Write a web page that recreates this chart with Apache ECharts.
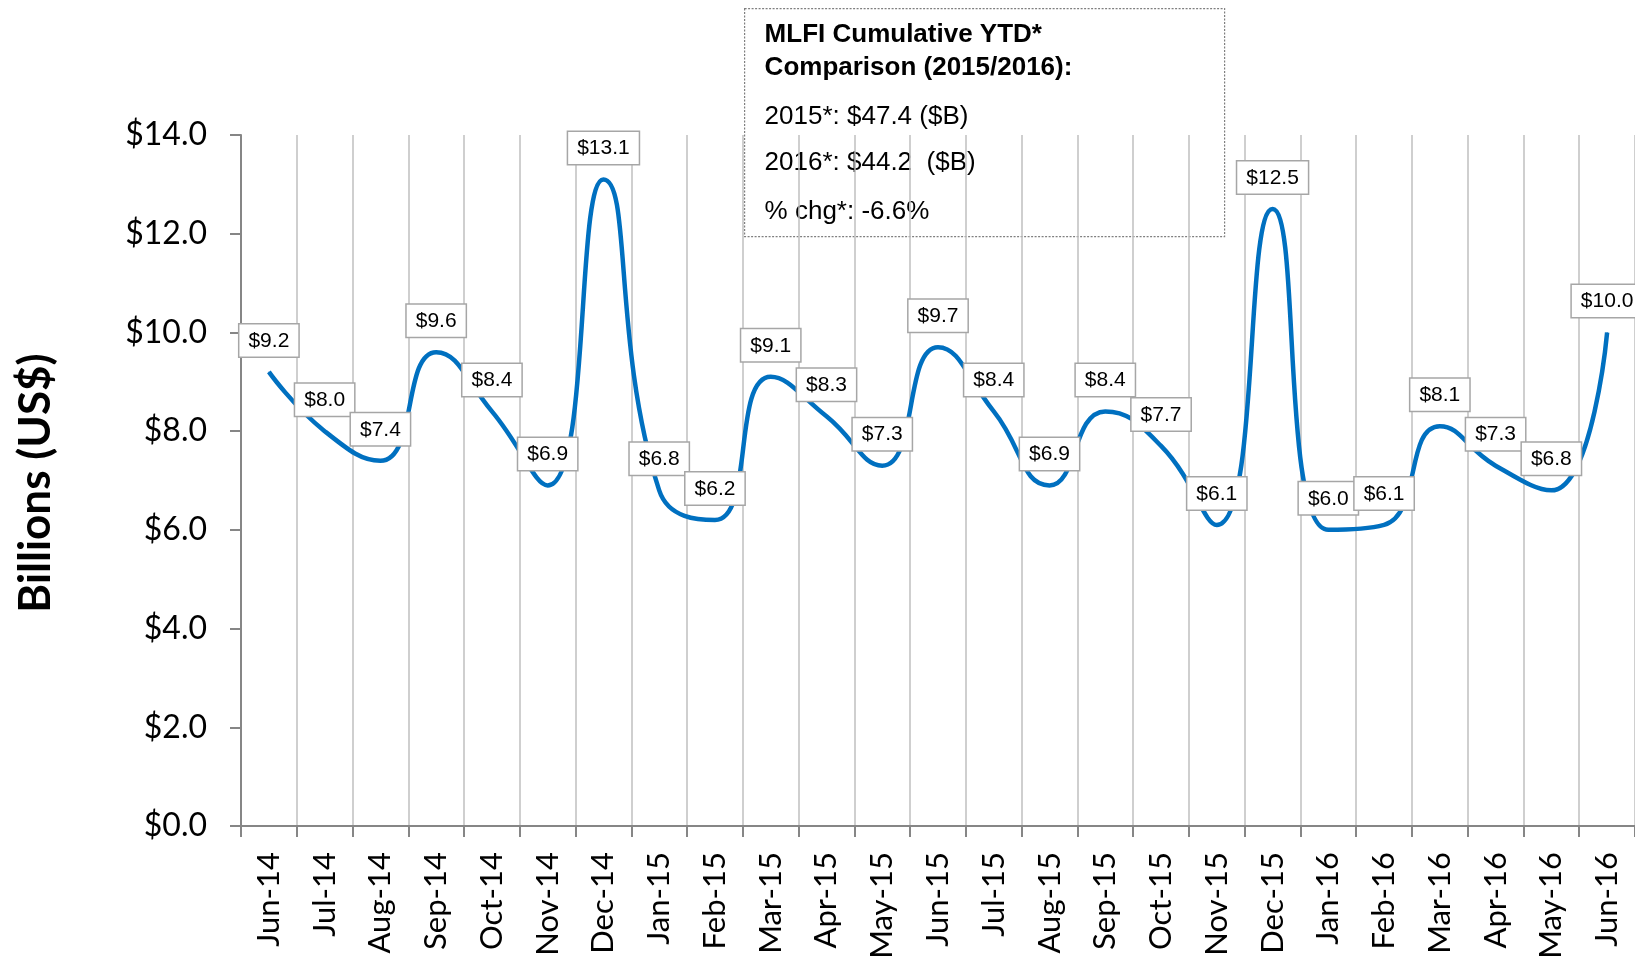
<!DOCTYPE html>
<html lang="en">
<head>
    <meta charset="UTF-8">
    <title>MLFI monthly volume</title>
    <style>
        html, body { margin: 0; padding: 0; background: #fff; }
        #main { width: 1635px; height: 966px; }
    </style>
</head>
<body>
    <div id="main"></div>
    <script src="https://cdn.jsdelivr.net/npm/echarts@6/dist/echarts.min.js"></script>
    <script>
        // months shown on the x axis
        const months = [
            'Jun-14', 'Jul-14', 'Aug-14', 'Sep-14', 'Oct-14', 'Nov-14', 'Dec-14',
            'Jan-15', 'Feb-15', 'Mar-15', 'Apr-15', 'May-15', 'Jun-15', 'Jul-15',
            'Aug-15', 'Sep-15', 'Oct-15', 'Nov-15', 'Dec-15', 'Jan-16', 'Feb-16',
            'Mar-16', 'Apr-16', 'May-16', 'Jun-16'
        ];
        // new business volume, billions US$
        const volume = [
            9.2, 8.0, 7.4, 9.6, 8.4, 6.9, 13.1,
            6.8, 6.2, 9.1, 8.3, 7.3, 9.7, 8.4,
            6.9, 8.4, 7.7, 6.1, 12.5, 6.0, 6.1,
            8.1, 7.3, 6.8, 10.0
        ];
        const boxTitle = ['MLFI Cumulative YTD*', 'Comparison (2015/2016):'];
        const boxLines = ['2015*: $47.4 ($B)', '2016*: $44.2  ($B)', '% chg*: -6.6%'];

        var chartDom = document.getElementById('main');
        var myChart = echarts.init(chartDom);
        var option;

        const money = v => '$' + Number(v).toFixed(1);
        const boxFont = 'Liberation Sans, Arial';

        // text lines inside the comparison box
        const boxTexts = [];
        const titleY = [26, 59];
        boxTitle.forEach((t, i) => {
            boxTexts.push({
                type: 'text',
                x: 20,
                y: titleY[i],
                style: {
                    text: t,
                    fontFamily: boxFont,
                    fontWeight: 'bold',
                    fontSize: 26,
                    fill: '#000',
                    textVerticalAlign: 'middle'
                }
            });
        });
        const lineY = [108, 154, 203];
        boxLines.forEach((t, i) => {
            boxTexts.push({
                type: 'text',
                x: 20,
                y: lineY[i],
                style: {
                    text: t,
                    fontFamily: boxFont,
                    fontSize: 26,
                    fill: '#000',
                    textVerticalAlign: 'middle'
                }
            });
        });

        option = {
            animation: false,
            grid: {
                left: 241,
                top: 135,
                bottom: 140,
                width: 1401
            },
            xAxis: {
                type: 'category',
                data: months,
                boundaryGap: true,
                axisLine: { lineStyle: { color: '#868686', width: 2 } },
                axisTick: {
                    show: true,
                    interval: 0,
                    length: 11,
                    lineStyle: { color: '#868686', width: 2 }
                },
                splitLine: {
                    show: true,
                    interval: 0,
                    lineStyle: { color: '#bfbfbf', width: 1.5 }
                },
                axisLabel: {
                    interval: 0,
                    rotate: 90,
                    margin: 26,
                    color: '#000',
                    fontFamily: 'Lato',
                    fontSize: 31
                }
            },
            yAxis: {
                type: 'value',
                min: 0,
                max: 14,
                interval: 2,
                splitLine: { show: false },
                axisLine: { show: true, lineStyle: { color: '#868686', width: 2 } },
                axisTick: {
                    show: true,
                    length: 11,
                    lineStyle: { color: '#868686', width: 2 }
                },
                axisLabel: {
                    formatter: money,
                    margin: 34,
                    color: '#000',
                    fontFamily: 'Lato',
                    fontSize: 32
                }
            },
            series: [
                {
                    type: 'line',
                    data: volume,
                    smooth: 0.5,
                    symbol: 'circle',
                    symbolSize: 1,
                    itemStyle: { color: '#0070C0' },
                    lineStyle: { color: '#0070C0', width: 4.5 },
                    label: {
                        show: true,
                        position: 'top',
                        distance: 15,
                        formatter: p => money(p.value),
                        color: '#000',
                        fontFamily: boxFont,
                        fontSize: 21,
                        lineHeight: 21,
                        backgroundColor: '#fff',
                        borderColor: '#a6a6a6',
                        borderWidth: 1.5,
                        padding: [6, 9, 5, 9]
                    }
                }
            ],
            graphic: [
                {
                    type: 'text',
                    x: 36,
                    y: 483,
                    rotation: Math.PI / 2,
                    style: {
                        text: 'Billions (US$)',
                        fontFamily: 'Lato',
                        fontWeight: 'bold',
                        fontSize: 44,
                        fill: '#000',
                        textAlign: 'center',
                        textVerticalAlign: 'middle'
                    }
                },
                {
                    type: 'group',
                    left: 744,
                    top: 8,
                    z: 100,
                    children: [
                        {
                            type: 'rect',
                            shape: { x: 0, y: 0, width: 480, height: 228 },
                            style: {
                                fill: '#fff',
                                stroke: '#7f7f7f',
                                lineWidth: 1.2,
                                lineDash: [2, 1.5]
                            }
                        }
                    ].concat(boxTexts)
                }
            ]
        };
        option && myChart.setOption(option);
    </script>
</body>
</html>
